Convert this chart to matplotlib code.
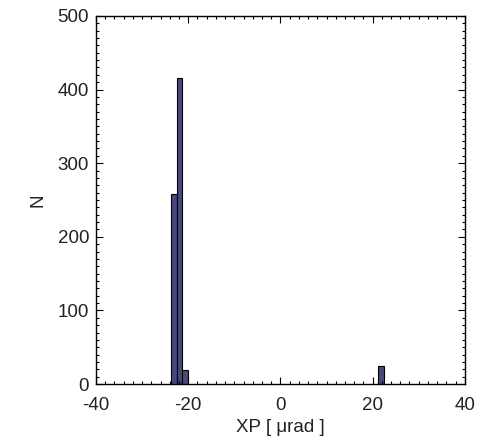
import matplotlib
matplotlib.use("Agg")
import matplotlib.pyplot as plt
import numpy as np
from matplotlib.ticker import MultipleLocator

# histogram data (bin width 1.25 urad)
bin_left = [-23.75, -22.5, -21.25, 21.25]
counts = [258, 415, 19, 25]
bin_width = 1.25

plt.rcParams["font.family"] = ["Liberation Sans", "DejaVu Sans"]
plt.rcParams["axes.unicode_minus"] = False
text_col = "#222222"

fig = plt.figure(figsize=(4.95, 4.41), dpi=100)
ax = fig.add_axes([0.194, 0.129, 0.745, 0.835])

ax.bar(bin_left, counts, width=bin_width, align="edge",
       color="#48487c", edgecolor="black", linewidth=0.8)

ax.set_xlim(-40, 40)
ax.set_ylim(0, 500)
ax.xaxis.set_major_locator(MultipleLocator(20))
ax.xaxis.set_minor_locator(MultipleLocator(2))
ax.yaxis.set_major_locator(MultipleLocator(100))
ax.yaxis.set_minor_locator(MultipleLocator(10))
ax.tick_params(which="both", direction="in", top=True, right=True,
               labelsize=13.5, color="black", labelcolor=text_col, width=0.8)
ax.tick_params(which="major", length=5)
ax.tick_params(which="minor", length=2.5)
ax.tick_params(axis="x", pad=9)
ax.tick_params(axis="y", pad=5)
for s in ax.spines.values():
    s.set_linewidth(1)

ax.set_xlabel("XP [ μrad ]", fontsize=13.5, color=text_col, labelpad=4)
ax.set_ylabel("N", fontsize=13.5, color=text_col, labelpad=8)

fig.savefig("out.png", dpi=100)
